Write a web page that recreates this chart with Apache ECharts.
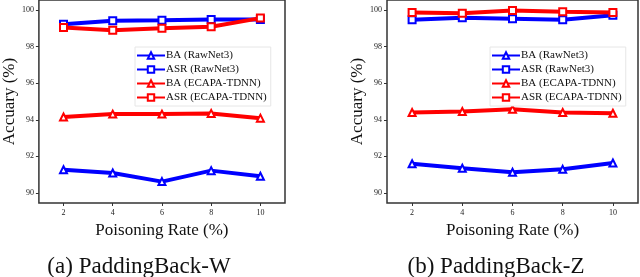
<!DOCTYPE html>
<html><head><meta charset="utf-8">
<script src="https://cdn.jsdelivr.net/npm/echarts@6/dist/echarts.min.js"></script>
<style>html,body{margin:0;padding:0;background:#fff}#c{width:640px;height:277px}</style>
</head><body><div id="c"></div>
<script>
const rates = [2, 4, 6, 8, 10];
const xTicks = [2, 4, 6, 8, 10];
const yTicks = [90, 92, 94, 96, 98, 100];
const seriesNames = ['BA (RawNet3)', 'ASR (RawNet3)', 'BA (ECAPA-TDNN)', 'ASR (ECAPA-TDNN)'];
// (a) PaddingBack-W
const wBaRaw = [91.27, 91.09, 90.62, 91.22, 90.91];
const wAsrRaw = [99.22, 99.42, 99.44, 99.49, 99.48];
const wBaEcapa = [94.15, 94.31, 94.31, 94.35, 94.09];
const wAsrEcapa = [99.05, 98.89, 99.00, 99.09, 99.56];
// (b) PaddingBack-Z
const zBaRaw = [91.60, 91.35, 91.13, 91.29, 91.64];
const zAsrRaw = [99.47, 99.58, 99.53, 99.47, 99.71];
const zBaEcapa = [94.40, 94.45, 94.58, 94.40, 94.36];
const zAsrEcapa = [99.87, 99.82, 99.98, 99.91, 99.87];
const captions = ['(a) PaddingBack-W', '(b) PaddingBack-Z'];
const xTitle = 'Poisoning Rate (%)';
const yTitle = 'Accuary (%)';

const font = 'Liberation Serif';
const colors = ['#0000ff', '#0000ff', '#ff0000', '#ff0000'];
const symbols = ['emptyTriangle', 'emptyRect', 'emptyTriangle', 'emptyRect'];
const panels = [[wBaRaw, wAsrRaw, wBaEcapa, wAsrEcapa], [zBaRaw, zAsrRaw, zBaEcapa, zAsrEcapa]];

const grids = [
  {left: 33, width: 252, top: 0, height: 203},
  {left: 387, width: 251, top: 0, height: 203}
];
const option = {
  animation: false,
  backgroundColor: '#fff',
  textStyle: {fontFamily: font},
  grid: grids.map(g => Object.assign({show: true, borderColor: '#333', borderWidth: 1.5, backgroundColor: '#fff'}, g)),
  xAxis: grids.map((g, i) => ({
    type: 'value', gridIndex: i, min: 1, max: 11,
    name: xTitle, nameLocation: 'middle', nameGap: 15,
    nameTextStyle: {fontFamily: font, fontSize: 17, color: '#111'},
    axisLine: {show: false},
    axisTick: {show: true, length: 3, lineStyle: {color: '#333'}, customValues: xTicks},
    axisLabel: {fontFamily: font, fontSize: 8, color: '#222', margin: 6, customValues: xTicks},
    splitLine: {show: false}
  })),
  yAxis: grids.map((g, i) => ({
    type: 'value', gridIndex: i, min: 89.45, max: 100.55,
    name: yTitle, nameLocation: 'middle', nameGap: 18,
    nameTextStyle: {fontFamily: font, fontSize: 17, color: '#111'},
    axisLine: {show: false},
    axisTick: {show: true, length: 3, lineStyle: {color: '#333'}, customValues: yTicks},
    axisLabel: {fontFamily: font, fontSize: 8, color: '#222', margin: 5, customValues: yTicks},
    splitLine: {show: false}
  })),
  legend: [
    {left: 135, top: 47, width: 130},
    {left: 490, top: 47, width: 130}
  ].map(l => Object.assign({
    data: seriesNames, orient: 'vertical', itemGap: 3, itemWidth: 28, itemHeight: 8,
    borderColor: '#e6e6e6', borderWidth: 1, padding: [3, 4, 3, 1],
    backgroundColor: '#fff', selectedMode: false,
    textStyle: {fontFamily: font, fontSize: 11, color: '#111', padding: [0, 0, 0, -4]}
  }, l)),
  title: [
    {text: captions[0], left: 139, top: 255, textAlign: 'center'},
    {text: captions[1], left: 496, top: 255, textAlign: 'center'}
  ].map(t => Object.assign({padding: 0, textStyle: {fontFamily: font, fontSize: 23, fontWeight: 'normal', color: '#111'}}, t)),
  series: []
};
panels.forEach((vals, p) => {
  vals.forEach((arr, k) => {
    option.series.push({
      type: 'line', name: seriesNames[k], xAxisIndex: p, yAxisIndex: p,
      data: rates.map((r, j) => [r, arr[j]]),
      symbol: symbols[k], symbolSize: 7,
      lineStyle: {color: colors[k], width: 4},
      itemStyle: {color: colors[k], borderColor: colors[k], borderWidth: 1.2},
      z: 2 + (k === 3 ? 1 : 0)
    });
  });
});
echarts.init(document.getElementById('c')).setOption(option);
</script></body></html>
